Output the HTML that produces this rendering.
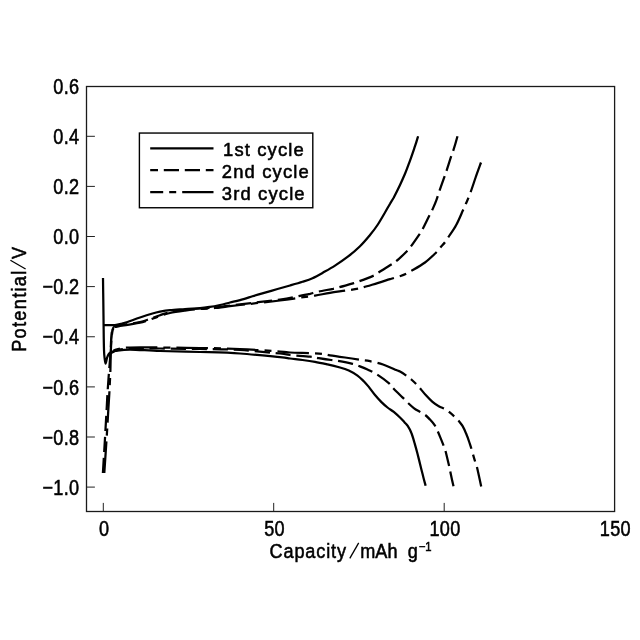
<!DOCTYPE html>
<html><head><meta charset="utf-8"><title>chart</title>
<style>html,body{margin:0;padding:0;background:#fff;}body{width:640px;height:640px;overflow:hidden;font-family:"Liberation Sans",sans-serif;}svg{display:block;will-change:transform;}</style>
</head><body>
<svg width="640" height="640" viewBox="0 0 640 640">
<rect x="0" y="0" width="640" height="640" fill="#fff"/>
<rect x="86.50" y="86.50" width="528.10" height="425.00" fill="none" stroke="#1a1a1a" stroke-width="1.3"/>
<line x1="86.50" y1="136.30" x2="94.90" y2="136.30" stroke="#222" stroke-width="1"/>
<line x1="86.50" y1="186.40" x2="94.90" y2="186.40" stroke="#222" stroke-width="1"/>
<line x1="86.50" y1="236.50" x2="94.90" y2="236.50" stroke="#222" stroke-width="1"/>
<line x1="86.50" y1="286.60" x2="94.90" y2="286.60" stroke="#222" stroke-width="1"/>
<line x1="86.50" y1="336.75" x2="94.90" y2="336.75" stroke="#222" stroke-width="1"/>
<line x1="86.50" y1="386.90" x2="94.90" y2="386.90" stroke="#222" stroke-width="1"/>
<line x1="86.50" y1="437.00" x2="94.90" y2="437.00" stroke="#222" stroke-width="1"/>
<line x1="86.50" y1="487.10" x2="94.90" y2="487.10" stroke="#222" stroke-width="1"/>
<line x1="103.30" y1="511.50" x2="103.30" y2="502.90" stroke="#222" stroke-width="1"/>
<line x1="273.70" y1="511.50" x2="273.70" y2="502.90" stroke="#222" stroke-width="1"/>
<line x1="444.20" y1="511.50" x2="444.20" y2="502.90" stroke="#222" stroke-width="1"/>
<g font-family="Liberation Sans, sans-serif" font-size="21.3px" fill="#000" stroke="#000" stroke-width="0.55">
<text transform="translate(79.40,93.80) scale(0.850,1)" text-anchor="end" letter-spacing="0.35">0.6</text>
<text transform="translate(79.40,143.90) scale(0.850,1)" text-anchor="end" letter-spacing="0.35">0.4</text>
<text transform="translate(79.40,194.00) scale(0.850,1)" text-anchor="end" letter-spacing="0.35">0.2</text>
<text transform="translate(79.40,244.10) scale(0.850,1)" text-anchor="end" letter-spacing="0.35">0.0</text>
<text transform="translate(79.40,294.20) scale(0.850,1)" text-anchor="end" letter-spacing="0.35">−0.2</text>
<text transform="translate(79.40,344.35) scale(0.850,1)" text-anchor="end" letter-spacing="0.35">−0.4</text>
<text transform="translate(79.40,394.50) scale(0.850,1)" text-anchor="end" letter-spacing="0.35">−0.6</text>
<text transform="translate(79.40,444.60) scale(0.850,1)" text-anchor="end" letter-spacing="0.35">−0.8</text>
<text transform="translate(79.40,494.70) scale(0.850,1)" text-anchor="end" letter-spacing="0.35">−1.0</text>
<text transform="translate(104.10,535.90) scale(0.850,1)" text-anchor="middle" letter-spacing="0.35">0</text>
<text transform="translate(274.50,535.90) scale(0.850,1)" text-anchor="middle" letter-spacing="0.35">50</text>
<text transform="translate(445.00,535.90) scale(0.850,1)" text-anchor="middle" letter-spacing="0.35">100</text>
<text transform="translate(615.40,535.90) scale(0.850,1)" text-anchor="middle" letter-spacing="0.35">150</text>
<text transform="translate(269.60,557.60) scale(0.892,1)" text-anchor="start" letter-spacing="0.95" font-size="20.3px">Capacity</text>
<line x1="349.8" y1="558.3" x2="358.7" y2="542.9" stroke-width="1.3"/>
<text transform="translate(360.20,557.60) scale(0.892,1)" text-anchor="start" letter-spacing="0.09" font-size="20.3px">mAh</text>
<text transform="translate(407.80,557.60) scale(0.892,1)" text-anchor="start" letter-spacing="0.00" font-size="20.3px">g</text>
<text transform="translate(418.8,551.2) scale(0.9,1)" font-size="12.5px">−1</text>
<text transform="translate(25.80,351.80) rotate(-90) scale(0.892,1)" text-anchor="start" letter-spacing="1.49" font-size="20.3px">Potential</text>
<line x1="25.6" y1="269" x2="10.4" y2="260.3" stroke-width="1.3"/>
<text transform="translate(25.80,258.90) rotate(-90) scale(0.892,1)" text-anchor="start" letter-spacing="0.00" font-size="20.3px">V</text>
<text transform="translate(223.00,155.80) scale(1.000,1)" text-anchor="start" letter-spacing="1.15" font-size="18.4px">1st cycle</text>
<text transform="translate(221.80,177.90) scale(1.000,1)" text-anchor="start" letter-spacing="1.15" font-size="18.4px">2nd cycle</text>
<text transform="translate(221.80,199.90) scale(1.000,1)" text-anchor="start" letter-spacing="1.15" font-size="18.4px">3rd cycle</text>
</g>
<rect x="139.4" y="133.05" width="173.4" height="74.7" fill="none" stroke="#000" stroke-width="1.4"/>
<g fill="none" stroke="#000" stroke-width="2.25" stroke-linejoin="round">
<line x1="150.2" y1="148.35" x2="213.5" y2="148.35"/>
<line x1="150.2" y1="170.2" x2="213.5" y2="170.2" stroke-dasharray="15.2 5.8" stroke-dashoffset="7.4"/>
<line x1="150.2" y1="192" x2="213.5" y2="192" stroke-dasharray="31.5 6 7 6" stroke-dashoffset="18.5"/>
<path d="M103.0 278.0 C103.0 281.7 103.2 292.2 103.3 300.0 C103.4 307.8 103.5 316.7 103.6 325.0 C103.7 333.3 103.8 344.5 104.0 350.0 C104.2 355.5 104.3 355.8 104.6 358.0 C104.9 360.2 105.2 363.5 105.6 363.5 C106.0 363.5 106.5 359.5 107.0 358.0 C107.5 356.5 107.8 355.5 108.5 354.5 C109.2 353.5 109.9 352.6 111.0 352.0 C112.1 351.4 111.8 351.4 115.0 351.0 C118.2 350.6 122.5 349.5 130.0 349.5 C137.5 349.5 148.3 350.6 160.0 351.0 C171.7 351.4 186.7 351.6 200.0 352.0 C213.3 352.4 226.7 352.6 240.0 353.5 C253.3 354.4 271.7 356.4 280.0 357.2 C288.3 358.0 286.2 358.0 290.0 358.5 C293.8 359.0 298.3 359.4 302.5 360.0 C306.7 360.6 310.8 361.2 315.0 361.9 C319.2 362.6 323.3 363.5 327.5 364.4 C331.7 365.3 336.5 366.5 340.0 367.5 C343.5 368.5 345.8 369.2 348.8 370.6 C351.7 372.0 355.0 373.8 357.5 375.6 C360.0 377.4 361.9 379.4 363.8 381.2 C365.6 383.1 366.9 384.6 368.8 386.9 C370.6 389.2 372.9 392.5 375.0 395.0 C377.1 397.5 379.2 399.8 381.2 401.9 C383.3 404.0 385.4 405.8 387.5 407.5 C389.6 409.2 391.7 410.2 393.8 411.9 C395.8 413.6 398.2 415.8 400.0 417.5 C401.8 419.2 403.3 421.0 404.6 422.4 C405.9 423.8 406.6 424.2 407.7 425.9 C408.8 427.6 410.1 429.7 411.2 432.5 C412.4 435.3 413.4 439.0 414.4 442.5 C415.4 446.0 416.5 449.8 417.5 453.8 C418.5 457.7 419.7 462.5 420.6 466.2 C421.5 470.0 422.3 473.0 423.1 476.2 C423.9 479.5 425.2 484.1 425.6 485.7"/>
<path d="M104.0 325.0 C105.0 325.0 108.2 325.2 110.0 325.2 C111.8 325.2 113.2 325.2 115.0 325.0 C116.8 324.8 118.9 324.3 121.0 323.8 C123.1 323.3 124.3 323.1 127.5 322.0 C130.7 320.9 135.8 318.9 140.0 317.5 C144.2 316.1 149.2 314.5 152.5 313.5 C155.8 312.5 157.1 312.2 160.0 311.6 C162.9 311.1 165.8 310.6 170.0 310.2 C174.2 309.8 180.0 309.4 185.0 309.0 C190.0 308.6 195.8 308.5 200.0 308.1 C204.2 307.8 206.7 307.4 210.0 306.9 C213.3 306.4 216.7 305.7 220.0 305.0 C223.3 304.3 226.7 303.3 230.0 302.5 C233.3 301.7 236.2 301.1 240.0 300.1 C243.8 299.1 248.3 297.6 252.5 296.3 C256.7 295.1 260.8 293.8 265.0 292.6 C269.2 291.4 273.3 290.2 277.5 289.0 C281.7 287.8 285.8 286.7 290.0 285.5 C294.2 284.3 298.8 283.0 302.5 281.8 C306.2 280.6 309.2 279.7 312.5 278.2 C315.8 276.7 318.8 275.0 322.5 272.9 C326.2 270.8 330.8 268.3 335.0 265.6 C339.2 262.9 343.3 260.1 347.5 256.9 C351.7 253.7 356.2 249.9 360.0 246.2 C363.8 242.6 367.1 238.5 370.0 235.0 C372.9 231.5 375.0 228.8 377.5 225.0 C380.0 221.2 382.9 216.0 385.0 212.5 C387.1 209.0 388.5 206.2 390.0 203.8 C391.5 201.2 392.1 200.6 393.8 197.5 C395.4 194.4 398.1 189.0 400.0 185.0 C401.9 181.0 403.3 177.8 405.0 173.8 C406.7 169.7 408.3 165.2 410.0 160.6 C411.7 156.0 413.6 150.3 415.0 146.2 C416.4 142.2 417.6 137.9 418.1 136.2"/>
<path d="M114.2 326.2 C115.2 326.1 117.8 325.6 120.0 325.3 C122.2 325.0 124.2 324.8 127.5 324.2 C130.8 323.6 136.7 322.7 140.0 322.0 C143.3 321.3 145.2 320.6 147.5 319.8 C149.8 319.1 151.7 318.3 153.8 317.5 C155.8 316.7 157.3 316.1 160.0 315.2 C162.7 314.3 165.8 313.2 170.0 312.3 C174.2 311.4 180.0 310.6 185.0 310.0 C190.0 309.4 195.0 308.9 200.0 308.5 C205.0 308.1 210.8 307.9 215.0 307.5 C219.2 307.1 220.8 306.8 225.0 306.2 C229.2 305.7 230.8 305.5 240.0 304.4 C249.2 303.3 270.0 300.9 280.0 299.5 C290.0 298.1 295.0 296.8 300.0 295.8 C305.0 294.8 306.9 294.5 310.0 293.8 C313.1 293.0 314.9 292.3 318.8 291.5 C322.6 290.7 329.7 289.5 333.1 288.8 C336.5 288.0 336.0 288.2 339.4 287.2 C342.8 286.3 350.4 284.1 353.8 283.1 C357.1 282.1 356.1 282.5 359.4 281.2 C362.7 280.0 370.6 277.0 373.8 275.6 C376.9 274.2 375.4 274.5 378.1 272.8 C380.8 271.0 387.0 267.2 390.0 265.3 C393.0 263.4 393.4 263.6 396.2 261.2 C399.1 258.9 404.5 253.6 406.9 251.2 C409.3 248.9 408.5 249.7 410.6 246.9 C412.7 244.1 417.4 237.3 419.4 234.4 C421.4 231.5 420.8 232.5 422.5 229.4 C424.2 226.3 427.7 218.9 429.4 215.6 C431.1 212.3 431.4 211.9 432.5 209.4 C433.6 206.9 435.1 203.7 436.2 200.6 C437.4 197.5 438.0 194.9 439.4 191.0 C440.8 187.1 443.2 180.2 444.4 176.9 C445.6 173.6 445.4 174.3 446.5 171.0 C447.6 167.7 449.9 160.2 451.0 156.9 C452.1 153.6 452.0 154.7 453.1 151.2 C454.2 147.8 456.8 138.8 457.5 136.2" stroke-dasharray="15.2 5.8" stroke-dashoffset="1.8"/>
<path d="M102.9 473.0 C103.2 467.5 104.3 450.5 104.9 440.0 C105.5 429.5 106.1 418.3 106.6 410.0 C107.1 401.7 107.2 397.2 107.7 390.0 C108.2 382.8 108.9 373.3 109.4 367.0 C109.9 360.7 110.3 356.7 110.6 352.0 C110.9 347.3 110.9 342.8 111.2 339.0 C111.5 335.2 111.8 331.1 112.3 329.0 C112.8 326.9 113.9 326.7 114.2 326.2" stroke-dasharray="15.2 5.8"/>
<path d="M108.0 356.0 C108.7 355.4 110.3 353.5 112.0 352.5 C113.7 351.5 115.0 350.7 118.0 350.0 C121.0 349.3 123.0 348.8 130.0 348.5 C137.0 348.2 148.3 348.4 160.0 348.5 C171.7 348.6 186.7 348.8 200.0 349.0 C213.3 349.2 226.7 349.2 240.0 350.0 C253.3 350.8 271.7 352.7 280.0 353.5 C288.3 354.3 285.0 354.5 290.0 355.0 C295.0 355.5 305.2 356.1 310.0 356.6 C314.8 357.1 315.2 357.5 318.8 358.1 C322.3 358.7 328.0 359.6 331.2 360.0 C334.5 360.4 334.6 360.2 338.1 360.8 C341.6 361.4 349.2 362.9 352.5 363.8 C355.8 364.6 355.6 364.6 358.1 365.6 C360.6 366.6 364.4 368.0 367.5 369.5 C370.6 371.0 373.4 372.1 376.9 374.4 C380.4 376.7 386.1 380.8 388.8 383.1 C391.4 385.4 391.2 386.1 393.1 388.1 C395.0 390.1 398.2 393.2 400.0 395.0 C401.8 396.8 402.4 397.2 403.8 398.6 C405.1 400.0 406.4 401.5 408.1 403.1 C409.8 404.7 411.8 406.6 413.8 408.1 C415.7 409.6 418.1 410.8 420.0 411.9 C421.9 413.0 423.3 413.5 425.0 414.8 C426.7 416.0 428.3 417.8 430.0 419.6 C431.7 421.4 433.7 423.7 435.0 425.6 C436.3 427.5 436.8 429.2 437.7 431.2 C438.6 433.3 439.6 435.7 440.6 438.1 C441.6 440.5 442.8 443.5 443.6 445.6 C444.4 447.7 444.5 447.3 445.4 450.6 C446.3 453.9 448.2 462.2 449.0 465.6 C449.8 469.0 449.4 467.8 450.2 471.2 C450.9 474.7 452.9 483.8 453.5 486.3" stroke-dasharray="15.2 5.8" stroke-dashoffset="19.3"/>
<path d="M114.6 327.0 C115.5 326.8 117.8 326.4 120.0 326.0 C122.2 325.6 124.2 325.4 127.5 324.9 C130.8 324.3 136.7 323.4 140.0 322.7 C143.3 322.0 145.2 321.2 147.5 320.5 C149.8 319.8 151.7 319.0 153.8 318.2 C155.8 317.4 157.3 316.8 160.0 315.9 C162.7 315.0 165.8 313.9 170.0 313.0 C174.2 312.1 180.0 311.3 185.0 310.6 C190.0 309.9 195.0 309.4 200.0 309.0 C205.0 308.6 210.8 308.4 215.0 308.0 C219.2 307.6 220.8 307.3 225.0 306.8 C229.2 306.3 230.8 306.1 240.0 305.0 C249.2 303.9 270.0 301.7 280.0 300.5 C290.0 299.3 294.2 298.4 300.0 297.6 C305.8 296.8 310.0 296.4 315.0 295.6 C320.0 294.8 324.9 293.6 330.0 292.8 C335.1 292.0 340.8 291.3 345.6 290.6 C350.4 289.9 355.7 289.1 358.8 288.5 C361.8 287.9 360.6 288.1 363.8 287.2 C366.9 286.4 373.1 284.4 377.5 283.1 C381.9 281.8 386.1 280.4 390.0 279.2 C393.9 278.0 397.9 276.9 400.6 276.0 C403.3 275.1 404.5 274.6 406.2 273.8 C408.0 272.9 408.1 272.9 411.2 271.0 C414.4 269.1 420.8 265.6 425.0 262.5 C429.2 259.4 433.6 255.0 436.2 252.5 C438.9 250.0 439.1 249.0 440.6 247.2 C442.1 245.5 443.8 243.9 445.0 242.2 C446.2 240.6 446.2 240.4 448.1 237.5 C450.0 234.6 453.8 229.6 456.2 225.0 C458.8 220.4 461.5 213.4 463.1 210.0 C464.7 206.6 464.8 206.3 465.6 204.4 C466.4 202.5 467.3 200.7 468.1 198.7 C468.9 196.7 469.4 195.8 470.6 192.2 C471.9 188.7 473.9 182.5 475.6 177.5 C477.3 172.5 480.1 165.0 481.0 162.5" stroke-dasharray="31.5 6 7 6" stroke-dashoffset="50.1"/>
<path d="M104.3 473.0 C104.7 467.5 105.8 450.5 106.5 440.0 C107.2 429.5 107.8 418.3 108.3 410.0 C108.8 401.7 109.2 396.7 109.5 390.0 C109.8 383.3 110.2 376.3 110.4 370.0 C110.6 363.7 110.6 357.2 110.8 352.0 C111.0 346.8 111.2 342.7 111.5 339.0 C111.8 335.3 112.2 332.0 112.7 330.0 C113.2 328.0 114.3 327.5 114.6 327.0" stroke-dasharray="31.5 6 7 6"/>
<path d="M108.5 356.0 C109.2 355.2 110.9 352.7 112.5 351.5 C114.1 350.3 115.1 349.7 118.0 349.0 C120.9 348.3 123.0 347.8 130.0 347.5 C137.0 347.2 148.3 347.4 160.0 347.5 C171.7 347.6 186.7 347.8 200.0 348.0 C213.3 348.2 226.7 348.4 240.0 349.0 C253.3 349.6 271.7 351.0 280.0 351.6 C288.3 352.2 285.0 352.2 290.0 352.5 C295.0 352.8 304.5 352.9 310.0 353.1 C315.5 353.4 319.8 353.6 323.1 354.0 C326.4 354.4 326.4 354.7 330.0 355.3 C333.6 355.9 340.0 356.8 345.0 357.5 C350.0 358.2 355.8 359.1 360.0 359.8 C364.2 360.4 366.2 360.4 370.0 361.2 C373.8 362.0 378.6 363.0 383.0 364.5 C387.4 366.0 393.4 368.8 396.2 370.0 C399.1 371.2 398.2 370.5 400.0 371.5 C401.8 372.5 404.9 374.6 406.9 376.0 C408.9 377.4 410.2 378.5 411.9 380.0 C413.6 381.5 415.4 383.2 416.9 384.8 C418.3 386.2 419.0 387.2 420.6 389.0 C422.2 390.8 424.3 393.5 426.2 395.6 C428.2 397.8 430.4 400.1 432.5 401.9 C434.6 403.7 436.7 405.1 438.8 406.2 C440.8 407.4 443.2 408.0 445.0 409.0 C446.8 410.0 447.8 411.0 449.4 412.2 C451.0 413.5 452.8 415.0 454.4 416.5 C456.0 418.0 457.4 419.4 458.8 421.0 C460.1 422.6 461.2 423.7 462.5 425.8 C463.8 427.9 465.1 431.0 466.2 433.8 C467.4 436.5 468.5 439.8 469.4 442.5 C470.3 445.2 470.8 446.6 471.7 449.8 C472.6 452.9 474.1 458.4 475.0 461.2 C475.9 464.1 475.9 462.7 476.9 466.9 C477.9 471.1 480.5 483.2 481.2 486.5" stroke-dasharray="31.5 6 7 6" stroke-dashoffset="30.3"/>
<path d="M110.7 351 L111.3 339 L112.4 329.3 Q113 326.6 115.5 326" stroke-width="1.7"/>
</g>
</svg>
</body></html>
